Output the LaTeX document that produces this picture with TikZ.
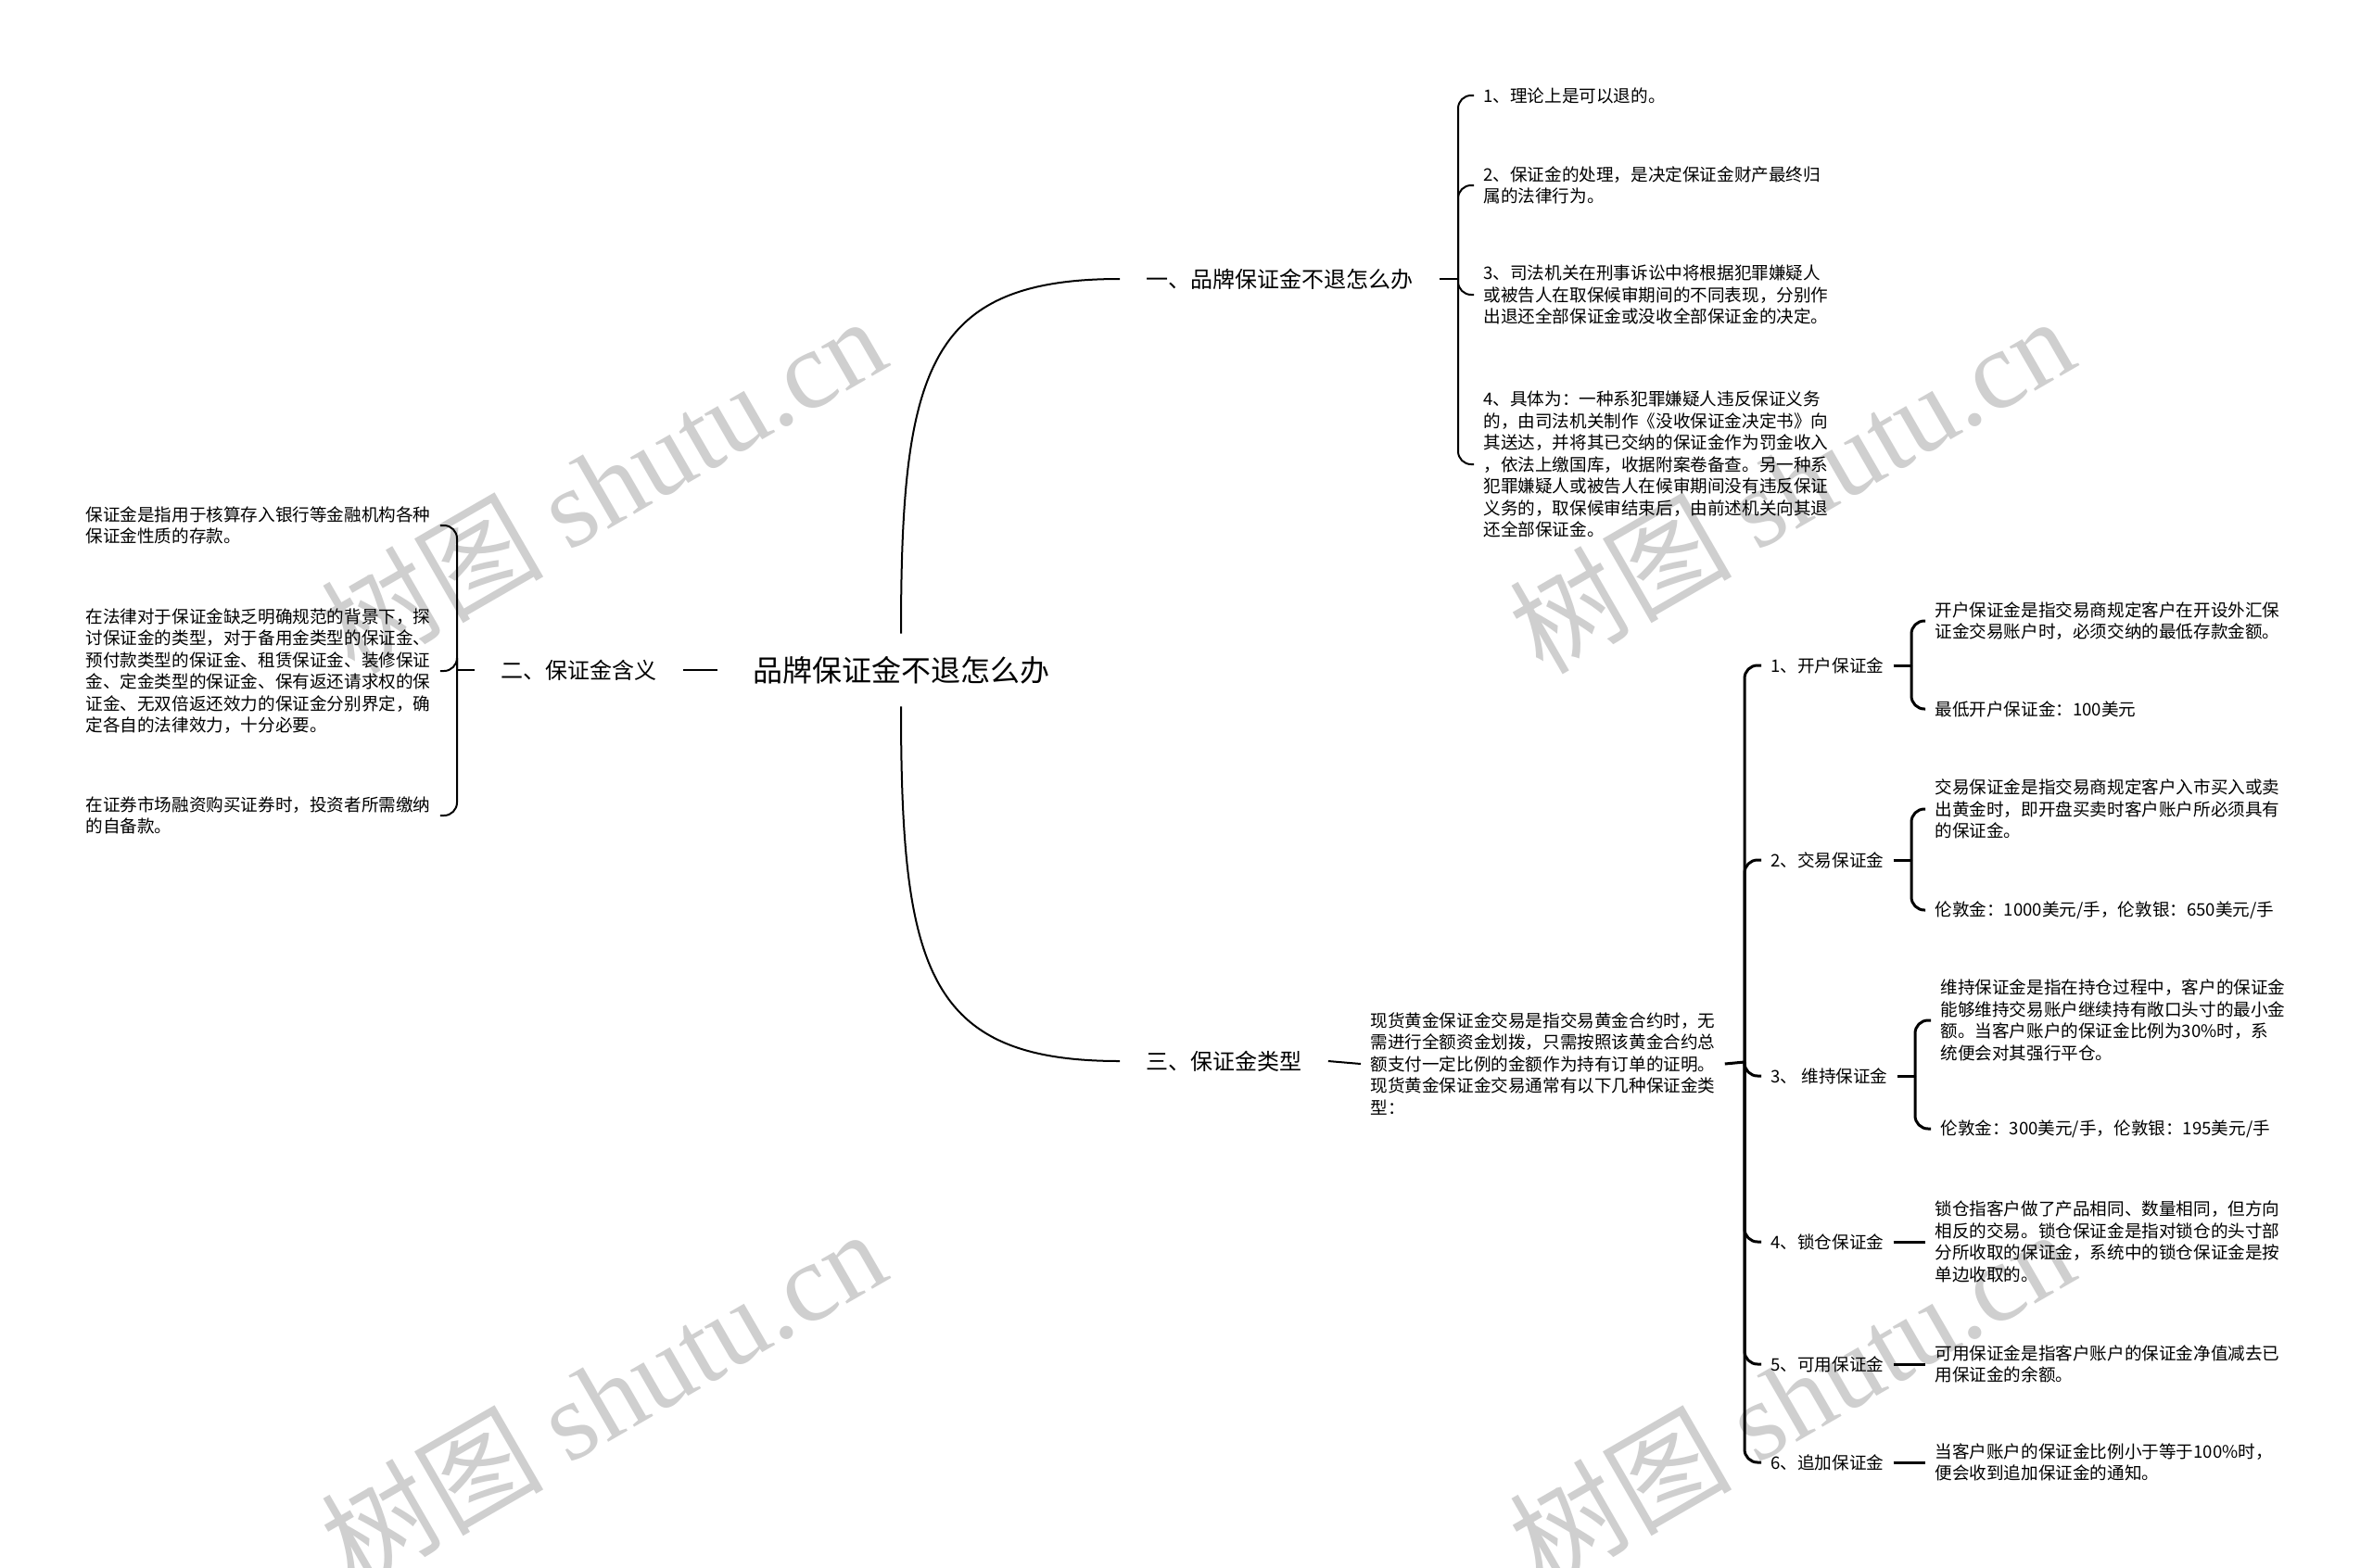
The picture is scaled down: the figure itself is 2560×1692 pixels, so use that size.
\documentclass[tikz,border=0pt]{standalone}
\usepackage{fontspec}
\setmainfont{Noto Sans CJK SC}
\newfontfamily\wmfont{Liberation Serif}
\tikzset{
  link/.style={draw=black, line width=1pt},
  linkthick/.style={draw=black, line width=1.5pt},
  rootnode/.style={font=\fontsize{16}{19}\selectfont, inner xsep=19pt, inner ysep=0pt, minimum height=39pt},
  topic/.style={font=\fontsize{12}{14}\selectfont, inner xsep=14pt, inner ysep=3pt, anchor=west},
  itemnode/.style={font=\fontsize{9.3}{11.75}\selectfont, inner xsep=5pt, inner ysep=2pt, anchor=west},
  leaf/.style={font=\fontsize{9.3}{11.75}\selectfont, align=left, inner xsep=5pt, inner ysep=1pt, anchor=west},
  wmark/.style={font=\fontsize{60}{60}\selectfont, text=black!19, rotate=30, inner sep=0pt}
}
\begin{document}
\begin{tikzpicture}[x=0.5pt,y=-0.5pt]
\fill[white] (0,0) rectangle (2560,1692);
\useasboundingbox (0,0) rectangle (2560,1692);
% Watermarks
\foreach \wx/\wy [count=\i] in {650/522,1932/522,650/1507,1932/1507}
  \node[wmark] (wm\i) at (\wx,\wy) {树图 {\wmfont shutu.cn}};
% Root and main branches
\node[rootnode] (root) at (972,723) {品牌保证金不退怎么办};
\node[topic] (t1) at (1208,301) {一、品牌保证金不退怎么办};
\node[topic] (t2) at (512,723) {二、保证金含义};
\node[topic] (t3) at (1208,1145) {三、保证金类型};
\draw[link] (root.north) .. controls +(0,-284) and +(-208,0) .. (t1.west);
\draw[link] (root.south) .. controls +(0,284) and +(-208,0) .. (t3.west);
\draw[link] (t2.east) -- (root.west);
% Branch one
\node[leaf] (a1) at (1590,103) {1、理论上是可以退的。};
\node[leaf] (a2) at (1590,200) {2、保证金的处理，是决定保证金财产最终归\\属的法律行为。};
\node[leaf] (a3) at (1590,318) {3、司法机关在刑事诉讼中将根据犯罪嫌疑人\\或被告人在取保候审期间的不同表现，分别作\\出退还全部保证金或没收全部保证金的决定。};
\node[leaf] (a4) at (1590,501) {4、具体为：一种系犯罪嫌疑人违反保证义务\\的，由司法机关制作《没收保证金决定书》向\\其送达，并将其已交纳的保证金作为罚金收入\\，依法上缴国库，收据附案卷备查。另一种系\\犯罪嫌疑人或被告人在候审期间没有违反保证\\义务的，取保候审结束后，由前述机关向其退\\还全部保证金。};
\coordinate (ja) at (1573,301);
\draw[link] (t1.east) -- (ja);
\foreach \n in {a1,a2,a3,a4}
  \draw[link, rounded corners=7pt] (ja) |- (\n.west);
% Branch two
\node[leaf] (b1) at (82,567) {保证金是指用于核算存入银行等金融机构各种\\保证金性质的存款。};
\node[leaf] (b2) at (82,724) {在法律对于保证金缺乏明确规范的背景下，探\\讨保证金的类型，对于备用金类型的保证金、\\预付款类型的保证金、租赁保证金、装修保证\\金、定金类型的保证金、保有返还请求权的保\\证金、无双倍返还效力的保证金分别界定，确\\定各自的法律效力，十分必要。};
\node[leaf] (b3) at (82,880) {在证券市场融资购买证券时，投资者所需缴纳\\的自备款。};
\coordinate (jb) at (493,723);
\draw[link] (t2.west) -- (jb);
\foreach \n in {b1,b2,b3}
  \draw[link, rounded corners=7pt] (jb) |- (\n.east);
% Branch three
\node[leaf] (c0) at (1468,1148) {现货黄金保证金交易是指交易黄金合约时，无\\需进行全额资金划拨，只需按照该黄金合约总\\额支付一定比例的金额作为持有订单的证明。\\现货黄金保证金交易通常有以下几种保证金类\\型：};
\draw[link] (t3.east) -- (c0.west);
\coordinate (jc) at (1882,1146);
\draw[linkthick] (c0.east) -- (jc);
\node[itemnode] (c1) at (1900,718) {1、开户保证金};
\node[itemnode] (c2) at (1900,928) {2、交易保证金};
\node[itemnode] (c3) at (1900,1161) {3、 维持保证金};
\node[itemnode] (c4) at (1900,1340) {4、锁仓保证金};
\node[itemnode] (c5) at (1900,1472) {5、可用保证金};
\node[itemnode] (c6) at (1900,1578) {6、追加保证金};
\foreach \n in {c1,c2,c3,c4,c5,c6}
  \draw[linkthick, rounded corners=7pt] (jc) |- (\n.west);
% Types with two details
\node[leaf] (c1a) at (2077,670) {开户保证金是指交易商规定客户在开设外汇保\\证金交易账户时，必须交纳的最低存款金额。};
\node[leaf] (c1b) at (2077,765) {最低开户保证金：100美元};
\node[leaf] (c2a) at (2077,873) {交易保证金是指交易商规定客户入市买入或卖\\出黄金时，即开盘买卖时客户账户所必须具有\\的保证金。};
\node[leaf] (c2b) at (2077,982) {伦敦金：1000美元/手，伦敦银：650美元/手};
\node[leaf] (c3a) at (2083,1101) {维持保证金是指在持仓过程中，客户的保证金\\能够维持交易账户继续持有敞口头寸的最小金\\额。当客户账户的保证金比例为30\%时，系\\统便会对其强行平仓。};
\node[leaf] (c3b) at (2083,1218) {伦敦金：300美元/手，伦敦银：195美元/手};
\coordinate (jc1) at (2062,718);
\coordinate (jc2) at (2062,928);
\coordinate (jc3) at (2066,1161);
\foreach \i in {1,2,3} {
  \draw[linkthick] (c\i.east) -- (jc\i);
  \draw[linkthick, rounded corners=7pt] (jc\i) |- (c\i a.west);
  \draw[linkthick, rounded corners=7pt] (jc\i) |- (c\i b.west);
}
% Types with one detail
\node[leaf] (c4a) at (2077,1340) {锁仓指客户做了产品相同、数量相同，但方向\\相反的交易。锁仓保证金是指对锁仓的头寸部\\分所收取的保证金，系统中的锁仓保证金是按\\单边收取的。};
\node[leaf] (c5a) at (2077,1472) {可用保证金是指客户账户的保证金净值减去已\\用保证金的余额。};
\node[leaf] (c6a) at (2077,1578) {当客户账户的保证金比例小于等于100\%时，\\便会收到追加保证金的通知。};
\foreach \i in {4,5,6}
  \draw[linkthick] (c\i.east) -- (c\i a.west);
\end{tikzpicture}
\end{document}
